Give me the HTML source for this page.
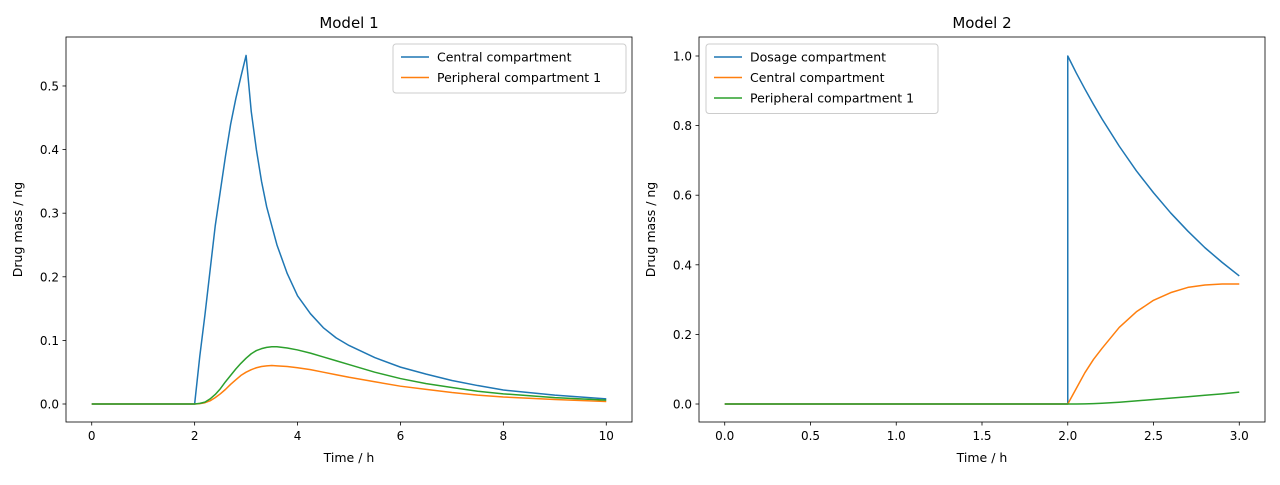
<!DOCTYPE html>
<html><head><meta charset="utf-8"><style>
body{margin:0;background:#fff;}
svg{font-family:"DejaVu Sans","Liberation Sans",sans-serif;}
</style></head><body>
<svg id="c" width="1280" height="480" xmlns="http://www.w3.org/2000/svg"></svg>
<script>
// Model 1 data
const t1 = [0,2,2.1,2.2,2.3,2.4,2.5,2.6,2.7,2.8,2.9,3,3.1,3.2,3.3,3.4,3.5,3.6,3.8,4,4.25,4.5,4.75,5,5.5,6,6.5,7,7.5,8,9,10];
const m1Central = [0,0,0.075,0.14,0.21,0.28,0.335,0.39,0.44,0.48,0.515,0.548,0.46,0.40,0.35,0.31,0.28,0.25,0.205,0.17,0.142,0.12,0.104,0.092,0.073,0.058,0.047,0.037,0.029,0.022,0.014,0.008];
const m1Periph = [0,0,0.0005,0.002,0.005,0.01,0.016,0.023,0.031,0.038,0.045,0.05,0.054,0.057,0.059,0.06,0.0605,0.06,0.059,0.057,0.054,0.05,0.046,0.042,0.035,0.028,0.023,0.018,0.014,0.011,0.007,0.004];
const m1Green = [0,0,0.001,0.003,0.008,0.015,0.024,0.035,0.045,0.055,0.064,0.072,0.079,0.084,0.087,0.089,0.09,0.09,0.088,0.085,0.08,0.074,0.068,0.062,0.05,0.04,0.032,0.026,0.02,0.016,0.01,0.006];
const m1XTicks = [0,2,4,6,8,10];
const m1YTicks = [0.0,0.1,0.2,0.3,0.4,0.5];
// Model 2 data
const t2 = [0,2,2,2.05,2.1,2.15,2.2,2.3,2.4,2.5,2.6,2.7,2.8,2.9,3.0];
const m2Dosage = [0,0,1,0.951,0.905,0.861,0.819,0.741,0.670,0.607,0.549,0.497,0.449,0.407,0.368];
const m2Central = [0,0,0,0.045,0.09,0.128,0.16,0.22,0.265,0.298,0.32,0.335,0.342,0.345,0.345];
const m2Periph = [0,0,0,0,0.0005,0.001,0.002,0.005,0.009,0.013,0.017,0.021,0.025,0.029,0.034];
const m2XTicks = [0,0.5,1,1.5,2,2.5,3];
const m2YTicks = [0,0.2,0.4,0.6,0.8,1.0];

const NS="http://www.w3.org/2000/svg", svg=document.getElementById('c');
function el(tag,attrs,parent){const e=document.createElementNS(NS,tag);for(const k in attrs)e.setAttribute(k,attrs[k]);(parent||svg).appendChild(e);return e;}
function txt(s,attrs){const e=el('text',attrs);e.textContent=s;return e;}

function panel(cfg){
  const {L,R,T,B,xmin,xmax,ymin,ymax,xt,yt,xdec,ydec,title,series,legend,lx,lw,id}=cfg;
  const X=v=>L+(v-xmin)/(xmax-xmin)*(R-L), Y=v=>B-(v-ymin)/(ymax-ymin)*(B-T);
  const g=el('g',{});
  
  
  series.forEach(s=>{
    const p=el('polyline',{points:s.x.map((v,i)=>X(v).toFixed(2)+','+Y(s.y[i]).toFixed(2)).join(' '),fill:'none',stroke:s.c,'stroke-width':1.5,'stroke-linejoin':'round'},g);
    
    
  });
  const f=el('rect',{x:L,y:T,width:R-L,height:B-T,fill:'none',stroke:'#000','stroke-width':0.8});
  
  
  xt.forEach(v=>{const x=X(v);el('line',{x1:x,x2:x,y1:B,y2:B+3.5,stroke:'#000','stroke-width':0.8});
    const t=txt(v.toFixed(xdec),{x:x,y:B+18,'font-size':12,'text-anchor':'middle'});
    
    });
  yt.forEach(v=>{const y=Y(v);el('line',{x1:L,x2:L-3.5,y1:y,y2:y,stroke:'#000','stroke-width':0.8});
    const t=txt(v.toFixed(ydec),{x:L-7,y:y+4.5,'font-size':12,'text-anchor':'end'});
    
    });
  const tt=txt(title,{x:(L+R)/2,y:T-9,'font-size':15,'text-anchor':'middle'});
  
  
  const xl=txt('Time / h',{x:(L+R)/2,y:B+40,'font-size':12.5,'text-anchor':'middle'});
  
  
  const yl=txt('Drug mass / ng',{x:0,y:0,'font-size':12.5,'text-anchor':'middle',transform:`translate(${L-44},${(T+B)/2}) rotate(-90)`});
  
  
  const lg=el('g',{});
  
  
  el('rect',{x:lx,y:T+7,width:lw,height:8+legend.length*20.5,rx:3,fill:'#fff','fill-opacity':0.8,stroke:'#ccc'},lg);
  legend.forEach((s,i)=>{const y=T+20+i*20.5;
    el('line',{x1:lx+8,x2:lx+36,y1:y,y2:y,stroke:s.c,'stroke-width':1.5},lg);
    const t=el('text',{x:lx+44,y:y+4.5,'font-size':12.5},lg);t.textContent=s.n;
    
    });
}
const B1='#1f77b4',O1='#ff7f0e',G1='#2ca02c';
panel({id:'model1',L:66,R:632,T:37,B:422,xmin:-0.5,xmax:10.5,ymin:-0.0283,ymax:0.577,xt:m1XTicks,yt:m1YTicks,xdec:0,ydec:1,title:'Model 1',
  series:[{x:t1,y:m1Central,c:B1,n:'central-compartment-line'},{x:t1,y:m1Periph,c:O1,n:'peripheral-compartment-line'},{x:t1,y:m1Green,c:G1,n:'third-compartment-line'}],
  legend:[{c:B1,n:'Central compartment'},{c:O1,n:'Peripheral compartment 1'}],lx:393,lw:233});
panel({id:'model2',L:699,R:1265,T:37,B:422,xmin:-0.15,xmax:3.15,ymin:-0.0517,ymax:1.0546,xt:m2XTicks,yt:m2YTicks,xdec:1,ydec:1,title:'Model 2',
  series:[{x:t2,y:m2Dosage,c:B1,n:'dosage-compartment-line'},{x:t2,y:m2Central,c:O1,n:'central-compartment-line'},{x:t2,y:m2Periph,c:G1,n:'peripheral-compartment-line'}],
  legend:[{c:B1,n:'Dosage compartment'},{c:O1,n:'Central compartment'},{c:G1,n:'Peripheral compartment 1'}],lx:706,lw:232});
</script>
</body></html>
